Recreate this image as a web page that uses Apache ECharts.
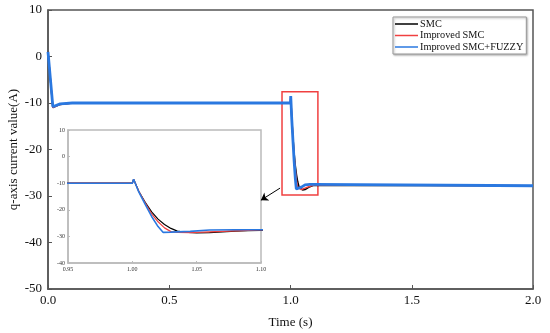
<!DOCTYPE html>
<html><head><meta charset="utf-8">
<script src="https://cdn.jsdelivr.net/npm/echarts@6/dist/echarts.min.js"></script>
<style>html,body{margin:0;padding:0;background:#fff}#c{width:550px;height:333px}</style>
</head><body><div id="c"></div>
<script>
// Data [time (s), q-axis current (A)]
const smc = [[0,1],[0.02,-11],[0.05,-10.3],[0.1,-10],[1.0,-10],[1.001,-8.5],[1.005,-13],[1.01,-17.2],[1.015,-20.8],[1.02,-23.5],[1.025,-25.5],[1.03,-27],[1.035,-28],[1.04,-28.4],[1.05,-28.7],[1.06,-28.6],[1.07,-28.3],[1.08,-28],[1.09,-27.8],[1.1,-27.7],[2.0,-27.8]];
const improved = [[0,1],[0.02,-11],[0.05,-10.3],[0.1,-10],[1.0,-10],[1.001,-8.5],[1.005,-13],[1.01,-17.5],[1.015,-21.5],[1.02,-24.5],[1.025,-26.8],[1.03,-28.2],[1.035,-28.5],[1.045,-28.6],[1.06,-28.3],[1.08,-27.9],[1.1,-27.6],[2.0,-27.8]];
const fuzzy = [[0,1],[0.02,-10.8],[0.05,-10.2],[0.1,-10],[1.0,-10],[1.001,-8.5],[1.005,-13.3],[1.01,-18],[1.015,-22.5],[1.02,-26.3],[1.024,-28.5],[1.03,-28.4],[1.045,-28.1],[1.06,-27.6],[1.08,-27.5],[1.1,-27.5],[2.0,-27.8]];
const seriesNames = ['SMC','Improved SMC','Improved SMC+FUZZY'];
const zoomBox = [[0.965,-7.6],[1.113,-29.8]];
const arrowLine = [[0.957,-28.3],[0.878,-30.9]];

const serif = '"Liberation Serif","Times New Roman",serif';
const chart = echarts.init(document.getElementById('c'));
const mainAxisLine = {show:true, onZero:false, lineStyle:{color:'#555', width:1.5}};
const insetAxisLine = {show:true, onZero:false, lineStyle:{color:'#bbb', width:1.5}};
chart.setOption({
  animation:false,
  backgroundColor:'#fff',
  legend:{
    data:seriesNames, orient:'vertical', left:393, top:17,
    icon:'rect', itemWidth:23, itemHeight:1.5, itemGap:1.5,
    padding:[2,3,2,2], borderColor:'#999', borderWidth:1, backgroundColor:'#fff',
    shadowColor:'rgba(0,0,0,0.3)', shadowBlur:2, shadowOffsetX:1, shadowOffsetY:1,
    textStyle:{fontFamily:serif, fontSize:10.3, color:'#111', padding:[0,0,0,-3]}
  },
  grid:[
    {left:48, right:17, top:10, bottom:44, show:true, borderColor:'#555', borderWidth:1.5, outerBoundsMode:'none', containLabel:false},
    {left:68, right:289, top:130, bottom:70, show:true, borderColor:'#bbb', borderWidth:1.5, backgroundColor:'#fff', z:3, outerBoundsMode:'none', containLabel:false}
  ],
  xAxis:[
    {gridIndex:0, type:'value', min:0, max:2, interval:0.5, name:'Time (s)', nameLocation:'middle', nameGap:27, nameMoveOverlap:false,
     nameTextStyle:{fontFamily:serif, fontSize:13, color:'#111'},
     axisLine:mainAxisLine, axisTick:{inside:true, length:4, lineStyle:{color:'#555'}}, splitLine:{show:false},
     axisLabel:{fontFamily:serif, fontSize:13, color:'#111', margin:5, formatter:v=>v.toFixed(1)}},
    {gridIndex:1, type:'value', min:0.95, max:1.10, interval:0.05, z:4,
     axisLine:insetAxisLine, axisTick:{inside:true, length:2, lineStyle:{color:'#bbb'}}, splitLine:{show:false},
     axisLabel:{fontFamily:serif, fontSize:6, color:'#333', margin:3, formatter:v=>v.toFixed(2)}}
  ],
  yAxis:[
    {gridIndex:0, type:'value', min:-50, max:10, interval:10, name:'q-axis current value(A)', nameLocation:'middle', nameGap:28, nameMoveOverlap:false,
     nameTextStyle:{fontFamily:serif, fontSize:13, color:'#111'},
     axisLine:mainAxisLine, axisTick:{inside:true, length:4, lineStyle:{color:'#555'}}, splitLine:{show:false},
     axisLabel:{fontFamily:serif, fontSize:13, color:'#111', margin:6}},
    {gridIndex:1, type:'value', min:-40, max:10, interval:10, z:4,
     axisLine:insetAxisLine, axisTick:{inside:true, length:2, lineStyle:{color:'#bbb'}}, splitLine:{show:false},
     axisLabel:{fontFamily:serif, fontSize:6, color:'#333', margin:3}}
  ],
  series:[
    {name:seriesNames[0], type:'line', xAxisIndex:0, yAxisIndex:0, data:smc, symbol:'none', color:'#000', lineStyle:{width:1.5}},
    {name:seriesNames[1], type:'line', xAxisIndex:0, yAxisIndex:0, data:improved, symbol:'none', color:'#f04040', lineStyle:{width:1.5}},
    {name:seriesNames[2], type:'line', xAxisIndex:0, yAxisIndex:0, data:fuzzy, symbol:'none', color:'#2a78e0', lineStyle:{width:2.8},
     markArea:{silent:true, itemStyle:{color:'rgba(0,0,0,0)', borderColor:'#f04040', borderWidth:1.5},
       data:[[{coord:zoomBox[0]},{coord:zoomBox[1]}]]},
     markLine:{silent:true, symbol:['none','arrow'], symbolSize:7, label:{show:false},
       lineStyle:{color:'#000', width:1, type:'solid'},
       data:[[{coord:arrowLine[0]},{coord:arrowLine[1]}]]}},
    {name:seriesNames[0], type:'line', xAxisIndex:1, yAxisIndex:1, data:smc, symbol:'none', color:'#000', lineStyle:{width:1.2}, z:5},
    {name:seriesNames[1], type:'line', xAxisIndex:1, yAxisIndex:1, data:improved, symbol:'none', color:'#f04040', lineStyle:{width:1.2}, z:5},
    {name:seriesNames[2], type:'line', xAxisIndex:1, yAxisIndex:1, data:fuzzy, symbol:'none', color:'#2a78e0', lineStyle:{width:1.6}, z:5}
  ]
});
</script></body></html>
